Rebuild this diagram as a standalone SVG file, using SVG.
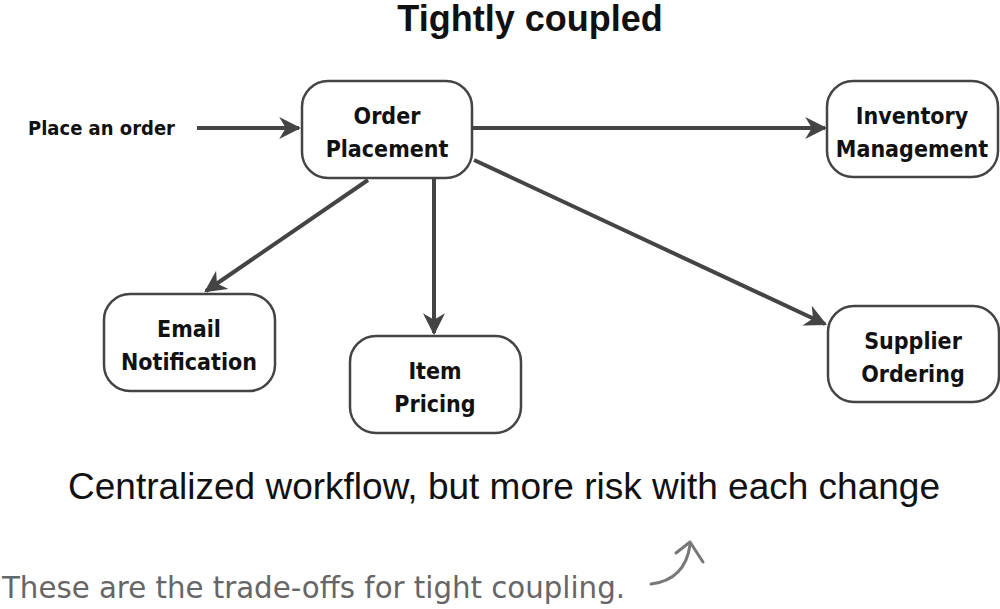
<svg xmlns="http://www.w3.org/2000/svg" width="1000" height="609" viewBox="0 0 1000 609">
<defs>
<style>
.box{fill:#fff;stroke:#444;stroke-width:2.5}
.nt{font-family:"DejaVu Sans Condensed","DejaVu Sans",sans-serif;font-weight:bold;font-size:23px;fill:#111;text-anchor:middle}
.con{stroke:#444;stroke-width:4;fill:none;marker-end:url(#ah)}
</style>
<marker id="ah" viewBox="0 0 10 10" refX="9" refY="5" markerWidth="5.5" markerHeight="5.5" orient="auto" markerUnits="strokeWidth">
<path d="M0,0 L10,5 L0,10 L3,5 z" fill="#444"/>
</marker>
</defs>
<rect width="1000" height="609" fill="#fff"/>
<text x="530" y="31" font-family="Liberation Sans,Arial,sans-serif" font-weight="bold" font-size="36" text-anchor="middle" fill="#111">Tightly coupled</text>
<g id="connectors">
<line class="con" x1="197" y1="128" x2="299" y2="128"/>
<line class="con" x1="473" y1="128" x2="825" y2="128"/>
<line class="con" x1="368" y1="180" x2="206" y2="291"/>
<line class="con" x1="434" y1="178" x2="434" y2="333"/>
<line class="con" x1="474" y1="160" x2="825" y2="324"/>
</g>
<g id="place-order"><text x="28" y="135" font-family="DejaVu Sans Condensed,DejaVu Sans,sans-serif" font-weight="bold" font-size="20" fill="#111" textLength="147" lengthAdjust="spacingAndGlyphs">Place an order</text></g>
<g id="order-placement"><rect class="box" x="302" y="81" width="170" height="97" rx="26"/><text class="nt" x="387" y="124">Order</text><text class="nt" x="387" y="157">Placement</text></g>
<g id="inventory-management"><rect class="box" x="827" y="81" width="171" height="96" rx="26"/><text class="nt" x="912" y="124">Inventory</text><text class="nt" x="912" y="157">Management</text></g>
<g id="email-notification"><rect class="box" x="104" y="294" width="171" height="97" rx="26"/><text class="nt" x="189" y="337">Email</text><text class="nt" x="189" y="370">Notification</text></g>
<g id="item-pricing"><rect class="box" x="350" y="336" width="171" height="97" rx="26"/><text class="nt" x="435" y="379">Item</text><text class="nt" x="435" y="412">Pricing</text></g>
<g id="supplier-ordering"><rect class="box" x="828" y="306" width="171" height="96" rx="26"/><text class="nt" x="913" y="349">Supplier</text><text class="nt" x="913" y="382">Ordering</text></g>
<text x="504" y="499" font-family="Liberation Sans,Arial,sans-serif" font-size="37" text-anchor="middle" fill="#111">Centralized workflow, but more risk with each change</text>
<g id="note">
<text x="2" y="598" font-family="DejaVu Sans Condensed,DejaVu Sans,sans-serif" font-size="30" fill="#666" textLength="623" lengthAdjust="spacingAndGlyphs">These are the trade-offs for tight coupling.</text>
<path d="M651,584 Q685,580 690,545" stroke="#777" stroke-width="3" fill="none" stroke-linecap="round"/>
<path d="M676,553 L690,542 L703,562" stroke="#777" stroke-width="3" fill="none" stroke-linecap="round" stroke-linejoin="round"/>
</g>
</svg>
